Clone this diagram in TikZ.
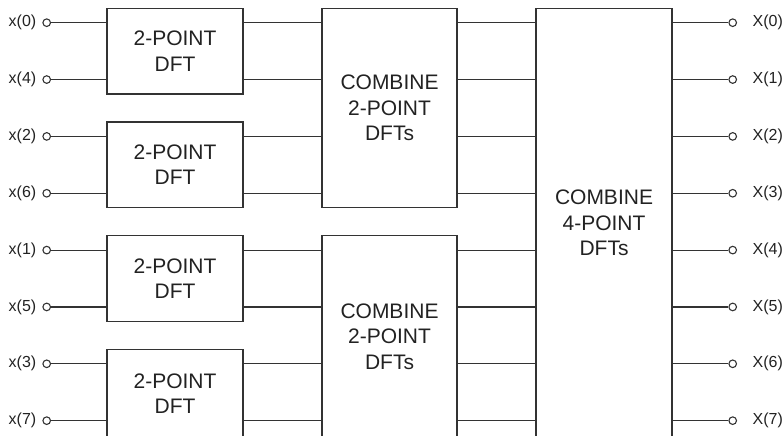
\documentclass[tikz,border=0pt]{standalone}
\usepackage{fontspec}
\setmainfont{Liberation Sans}
\definecolor{linec}{HTML}{333333}
\definecolor{textc}{HTML}{222222}
\begin{document}
\begin{tikzpicture}[x=1pt,y=-1pt,
  blk/.style={draw=linec, line width=1.2pt, align=center, text=textc,
    font=\fontsize{21}{25.5}\selectfont, inner sep=0pt},
  port/.style={circle, draw=linec, line width=1.1pt, fill=white,
    minimum size=7.6pt, inner sep=0pt},
  wire/.style={draw=linec, line width=1.2pt},
  lab/.style={font=\fontsize{16}{18}\selectfont, text=textc, inner sep=0pt}]
\useasboundingbox (0,0) rectangle (784,436);
\clip (0,0) rectangle (784,436);
% row coordinates
\foreach \i in {0,...,7} {
  \coordinate (r\i) at (0,{22.7+56.85*\i});
}
% 2-point DFT boxes
\node[blk, minimum width=136pt, minimum height=85.5pt] (b1) at (175,51.15) {2-POINT\\DFT};
\node[blk, minimum width=136pt, minimum height=85.5pt] (b2) at (175,164.83) {2-POINT\\DFT};
\node[blk, minimum width=136pt, minimum height=85.5pt] (b3) at (175,278.53) {2-POINT\\DFT};
\node[blk, minimum width=136pt, minimum height=88pt] (b4) at (175,393.5) {2-POINT\\DFT};
% combine 2-point boxes
\node[blk, minimum width=135pt, minimum height=199.15pt] (c1) at (389.5,107.98) {COMBINE\\2-POINT\\DFTs};
\node[blk, minimum width=135pt, minimum height=201.7pt] (c2) at (389.5,336.65) {COMBINE\\2-POINT\\DFTs};
% combine 4-point box
\node[blk, minimum width=136pt, minimum height=429.1pt] (f) at (604,222.95) {COMBINE\\4-POINT\\DFTs};
% inputs
\foreach \i/\n/\b in {0/0/b1,1/4/b1,2/2/b2,3/6/b2,4/1/b3,5/5/b3,6/3/b4,7/7/b4} {
  \node[port] (in\i) at (46.7,{22.7+56.85*\i}) {};
  \node[lab, anchor=east] (li\i) at (36.5,{22.7+56.85*\i}) {x(\n)};
  \draw[wire] (in\i.east) -- (in\i -| \b.west);
}
% 2-point -> combine 2-point
\foreach \i/\b/\c in {0/b1/c1,1/b1/c1,2/b2/c1,3/b2/c1,4/b3/c2,5/b3/c2,6/b4/c2,7/b4/c2} {
  \draw[wire] (\b.east |- r\i) -- (\c.west |- r\i);
}
% combine 2-point -> combine 4-point
\foreach \i/\c in {0/c1,1/c1,2/c1,3/c1,4/c2,5/c2,6/c2,7/c2} {
  \draw[wire] (\c.east |- r\i) -- (f.west |- r\i);
}
% outputs
\foreach \i in {0,...,7} {
  \node[port] (out\i) at (732.7,{22.7+56.85*\i}) {};
  \node[lab, anchor=west] (lo\i) at (752.5,{22.7+56.85*\i}) {X(\i)};
  \draw[wire] (f.east |- r\i) -- (out\i.west);
}
\end{tikzpicture}
\end{document}
